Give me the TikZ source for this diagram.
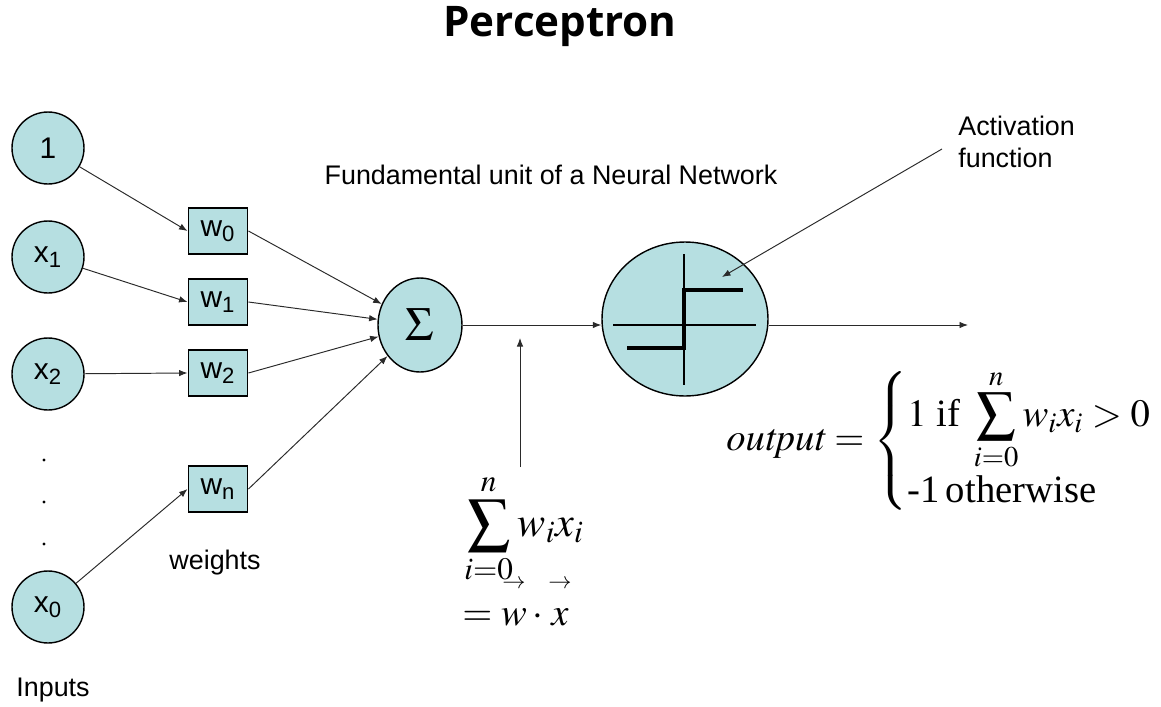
\documentclass[tikz,border=0pt]{standalone}
\usepackage{amsmath}
\usepackage{mathptmx}
\usepackage{fontspec}
\setmainfont{Liberation Serif}
\setsansfont{Liberation Sans}
\newfontfamily\titlefont{Open Sans}
\usetikzlibrary{arrows.meta, shapes, positioning, calc}
\definecolor{cellblue}{HTML}{B6DFE1}
\definecolor{wiregray}{HTML}{2A2A2A}
\newcommand{\hiarrow}[1]{\overset{\raisebox{7pt}{$\scriptscriptstyle\rightarrow$}}{#1}}

\tikzset{
  inputnode/.style={circle, draw=black, line width=0.8pt, fill=cellblue, minimum size=1.44cm, inner sep=0pt, font=\sffamily\fontsize{17}{20}\selectfont},
  weightbox/.style={rectangle, draw=black, line width=1.1pt, fill=cellblue, minimum width=1.18cm, minimum height=0.92cm, inner sep=0pt, font=\sffamily\fontsize{17}{20}\selectfont},
  wire/.style={-{Latex[length=1.7mm,width=1.3mm]}, line width=0.55pt, draw=wiregray},
  plaintext/.style={font=\sffamily\fontsize{15.3}{18}\selectfont, inner sep=0pt},
  mathtext/.style={font=\rmfamily\fontsize{22}{26}\selectfont, inner sep=0pt}
}

\begin{document}
\begin{tikzpicture}[x=0.02cm, y=-0.02cm]
  \useasboundingbox (0,0) rectangle (1161,707);

  \node[font=\titlefont\bfseries\fontsize{24}{28}\selectfont] (title) at (560,27) {Perceptron};

  % inputs
  \node[inputnode] (in0) at (48,148) {1};
  \node[inputnode] (in1) at (48,257) {x\textsubscript{1}};
  \node[inputnode] (in2) at (48,374) {x\textsubscript{2}};
  \node[inputnode] (inn) at (48,607) {x\textsubscript{0}};
  \foreach \y in {460,502,544}
    \fill (44,\y) circle (0.9pt);

  % weights
  \node[weightbox] (w0) at (218,231) {w\textsubscript{0}};
  \node[weightbox] (w1) at (218,302) {w\textsubscript{1}};
  \node[weightbox] (w2) at (218,373) {w\textsubscript{2}};
  \node[weightbox] (wn) at (218,489) {w\textsubscript{n}};

  % summation and activation
  \node[ellipse, draw=black, line width=0.8pt, fill=cellblue, minimum width=1.68cm, minimum height=1.88cm, inner sep=0pt,
        font=\rmfamily\fontsize{27}{30}\selectfont] (sum) at (420,325) {$\Sigma$};
  \node[ellipse, draw=black, line width=0.8pt, fill=cellblue, minimum width=3.32cm, minimum height=3.08cm] (act) at (685,319) {};
  \draw[line width=0.8pt] (613,325) -- (756,325);
  \draw[line width=0.8pt] (684,254) -- (684,385);
  \draw[line width=2.4pt] (627,348) -- (684,348) -- (684,290) -- (743,290);

  \draw[wire] (in0) -- (w0.west);
  \draw[wire] (in1) -- (w1.west);
  \draw[wire] (in2) -- (w2.west);
  \draw[wire] (inn) -- (wn.west);
  \draw[wire] (w0.east) -- (sum);
  \draw[wire] (w1.east) -- (sum);
  \draw[wire] (w2.east) -- (sum);
  \draw[wire] (wn.east) -- (sum);
  \draw[wire] (sum.east) -- (act.west |- sum.east);
  \coordinate (outend) at (968,325);
  \draw[wire] (act.east |- outend) -- (outend);

  % labels
  \node[plaintext] (caption) at (551,175) {Fundamental unit of a Neural Network};
  \node[plaintext, align=left, anchor=north west] (actlabel) at (958,116) {Activation\\function};
  \coordinate (actfrom) at (942,149);
  \coordinate (actto) at (722,277);
  \draw[wire] (actfrom) -- (actto);
  \node[plaintext] (weightslabel) at (215,563) {weights};
  \node[plaintext] (inputslabel) at (53,690) {Inputs};

  % formulas
  \node[mathtext] (wsum) at (524,529) {\fontsize{24}{28}\selectfont$\displaystyle\sum_{i=0}^{n} w_i x_i$};
  \node[mathtext, anchor=base] (wdot) at (517,625) {$= \hiarrow{w}\cdot\hiarrow{x}$};
  \coordinate (sumfoot) at (520,467);
  \coordinate (sumtip) at (520,338);
  \draw[wire] (sumfoot) -- (sumtip);
  \node[mathtext, anchor=west] (outeq) at (726,441)
    {$\mathit{output} = \left\{\begin{array}{@{}l}
      1\ \text{if}\ \displaystyle\sum_{i=0}^{n} w_i x_i > 0\\[14pt]
      \text{-1\,otherwise}\\[-2pt]
    \end{array}\right.$};
\end{tikzpicture}
\end{document}
